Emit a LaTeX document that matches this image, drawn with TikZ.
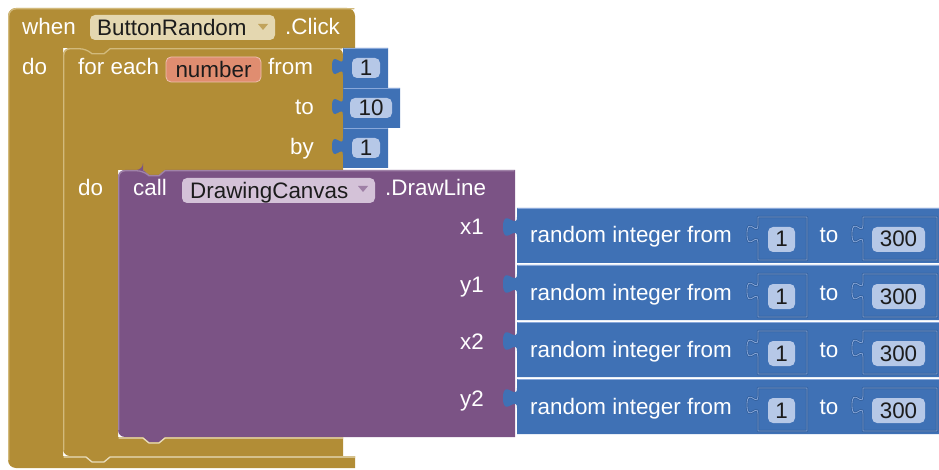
\documentclass[tikz,border=0pt]{standalone}
\usepackage{fontspec}
\setmainfont{Liberation Sans}
\usepackage{tikz}
\usetikzlibrary{calc}
\definecolor{evtgold}{HTML}{B28D36}
\definecolor{goldhi}{HTML}{D2BA7C}
\definecolor{procpurple}{HTML}{7B5385}
\definecolor{prochi}{HTML}{A083A8}
\definecolor{mathblue}{HTML}{3F71B5}
\definecolor{bluehi}{HTML}{89A8DA}
\definecolor{bluelo}{HTML}{2D5A97}
\definecolor{numfield}{HTML}{B6C8E7}
\definecolor{ddgold}{HTML}{E4D7B0}
\definecolor{ddpurple}{HTML}{D4C2D8}
\definecolor{varfield}{HTML}{E08D70}
\definecolor{ink}{HTML}{1C1C1C}
\newcommand{\blockfont}{\fontsize{22.4}{26}\selectfont}
% puzzle tab on a left edge, drawn upwards: L, T, offset, height, depth
\newcommand{\tabup}[5]{%
  -- (#1,{#2+#3+#4}) .. controls (#1,{#2+#3+0.333*#4}) and ({#1-#5},{#2+#3+1.533*#4})
  .. ({#1-#5},{#2+#3+0.5*#4}) .. controls ({#1-#5},{#2+#3-0.533*#4}) and (#1,{#2+#3+0.667*#4})
  .. (#1,{#2+#3})}
\tikzset{
  goldblk/.style={fill=evtgold},
  purpleblk/.style={fill=procpurple},
  blueblk/.style={fill=mathblue},
  hi/.style={line width=1.3pt, line cap=round, line join=round},
  socket/.style={draw=bluelo, double=bluehi, double distance=0.8pt, line width=0.7pt, line join=round},
  lbl/.style={text=white, font=\blockfont, inner sep=0pt, anchor=base west},
  lblr/.style={lbl, anchor=base east},
  dark/.style={text=ink, font=\blockfont, inner sep=0pt, anchor=base west},
  fieldbox/.style={rounded corners=5pt},
}
\begin{document}
\begin{tikzpicture}[x=1pt,y=-1pt]
  \useasboundingbox (0,0) rectangle (939,470);
  \clip (0,0) rectangle (939,470);
  % when ... do
  \fill[goldblk] (355,48) -- (63,48) -- (63,456) -- (355,456) -- (355,468)
    {[rounded corners=8pt] -- (8,468) -- (8,8) -- (355,8)} -- cycle;
  % for each ... do
  \fill[goldblk] (343,170) -- (165,170) -- (159,175) -- (149,175) -- (143,170) -- (118,170)
    -- (118,437) -- (343,437) -- (343,456) -- (110,456) -- (104,461) -- (92,461) -- (86,456)
    {[rounded corners=7pt] -- (63,456) -- (63,48) -- (343,48)} -- cycle;
  % call block
  \fill[purpleblk] (143,170) -- (149,175) -- (159,175) -- (165,170) -- (515,170) -- (515,437)
    -- (165,437) -- (159,442) -- (149,442) -- (143,437)
    {[rounded corners=7pt] -- (118,437) -- (118,170) -- (143,170)} -- cycle;
  % highlights
  \draw[hi, goldhi, rounded corners=7pt] (8.8,460) -- (8.8,8.8) -- (354,8.8);
  \draw[hi, goldhi!50!white] (64,457) -- (86,457) -- (92,462) -- (104,462) -- (110,457) -- (355,457);
  \draw[hi, goldhi] (63.8,450) {[rounded corners=6pt] -- (63.8,48.8) -- (86,48.8)}
    -- (92,53.8) -- (104,53.8) -- (110,48.8) -- (342,48.8);
  \draw[hi, goldhi!50!white] (119,438) -- (143,438) -- (149,443) -- (159,443) -- (165,438) -- (343,438);
  \draw[hi, prochi] (118.8,430) {[rounded corners=6pt] -- (118.8,170.8) -- (143,170.8)}
    -- (149,175.8) -- (159,175.8) -- (165,170.8) -- (514,170.8);
  % header of the event block
  \node[lbl] (when) at (22,35) {when};
  \fill[ddgold, fieldbox] (90,15) rectangle (275,40);
  \node[dark] (button) at (97,35.5) {ButtonRandom};
  \fill[evtgold!70!ddgold] (258,24) -- (268,24) -- (263,30) -- cycle;
  \node[lbl] (click) at (285,35) {.Click};
  \node[lbl] (do1) at (22,75) {do};
  % header of the loop
  \node[lbl] (foreach) at (78,75) {for each};
  \fill[varfield, draw=varfield!55!white, line width=0.8pt, fieldbox] (166,57) rectangle (261,82);
  \node[dark, anchor=base] (var) at (213.5,77.5) {number};
  \node[lbl] (from) at (268,75) {from};
  \node[lblr] (to) at (314,115) {to};
  \node[lblr] (by) at (314,155) {by};
  \node[lbl] (do2) at (78,196) {do};
  \foreach \t/\r/\fl/\v [count=\i] in {48/388/352/1, 88/400/350/10, 128/388/352/1} {
    \fill[blueblk] (343,\t) -- (\r,\t) -- (\r,\t+40) -- (343,\t+40) \tabup{343}{\t}{10}{17}{11} -- cycle;
    \draw[hi, bluehi] (344,\t+0.8) -- (\r-0.8,\t+0.8);
    \fill[numfield, fieldbox] (\fl,\t+10) rectangle (\r-8,\t+30);
    \node[dark, anchor=base] (lim\i) at ({(\fl+\r-8)/2},\t+28) {\v};
  }
  % header of the call block
  \node[lbl] (call) at (133,196) {call};
  \fill[ddpurple, fieldbox] (182,178) rectangle (375,203);
  \node[dark] (canvas) at (190,198.5) {DrawingCanvas};
  \fill[procpurple!60!ddpurple] (358,186) -- (368,186) -- (363,192) -- cycle;
  \node[lbl] (drawline) at (385,196) {.DrawLine};
  % random integer arguments
  \foreach \t/\a [count=\i] in {208/x1, 265/y1, 322/x2, 379/y2} {
    \fill[blueblk] (517,\t) -- (950,\t) -- (950,\t+55) -- (517,\t+55) \tabup{517}{\t}{9}{20}{14} -- cycle;
    \draw[hi, bluehi] (518,\t+0.8) -- (950,\t+0.8);
    \node[lblr] (arg\i) at (484,\t+27) {\a};
    \node[lbl] (rnd\i) at (530,\t+35) {random integer from};
    \draw[socket] (758,\t+9) -- (807,\t+9) -- (807,\t+52) -- (758,\t+52) \tabup{758}{\t+9}{8}{18}{11} -- cycle;
    \fill[numfield, fieldbox] (768,\t+19) rectangle (795,\t+44);
    \node[dark, anchor=base] (low\i) at (781.5,\t+39) {1};
    \node[lbl] (upto\i) at (819.5,\t+35) {to};
    \draw[socket] (863,\t+9) -- (937,\t+9) -- (937,\t+52) -- (863,\t+52) \tabup{863}{\t+9}{8}{18}{11} -- cycle;
    \fill[numfield, fieldbox] (872,\t+19) rectangle (925,\t+44);
    \node[dark, anchor=base] (high\i) at (898.5,\t+39) {300};
  }
\end{tikzpicture}
\end{document}
